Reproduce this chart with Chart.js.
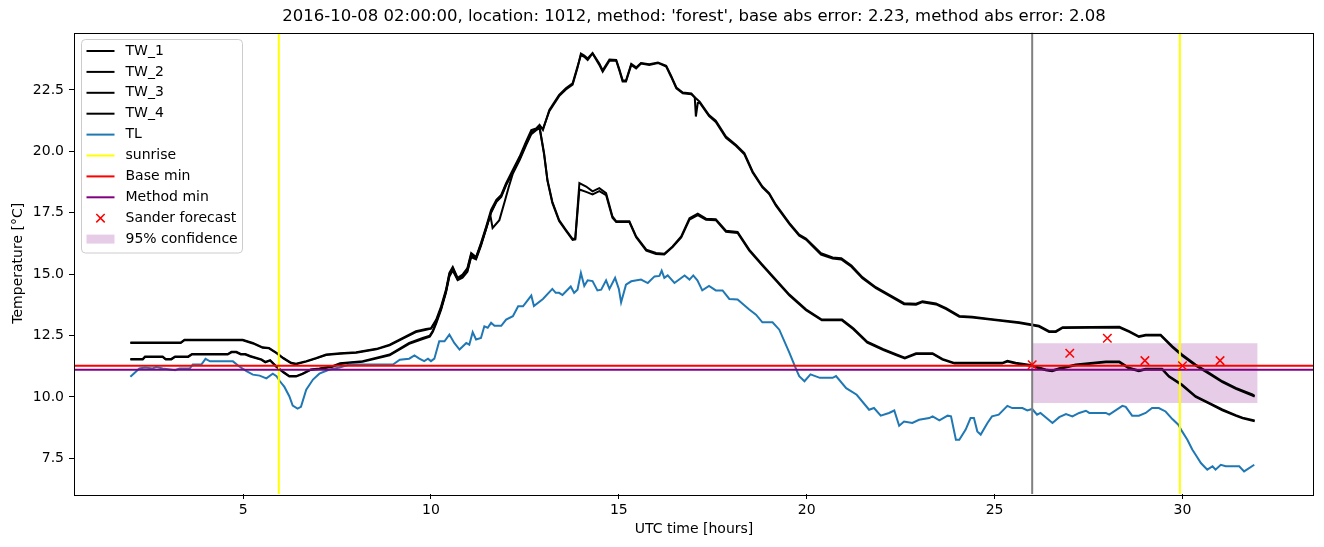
<!DOCTYPE html>
<html>
<head>
<meta charset="utf-8">
<script src="https://cdn.jsdelivr.net/npm/chart.js@4.4.0/dist/chart.umd.min.js"></script>
<style>
    html, body { margin: 0; padding: 0; background: #fff; }
    canvas { display: block; }
</style>
</head>
<body>
<canvas id="chart" width="1324" height="547"></canvas>
<script>
const titleText = "2016-10-08 02:00:00, location: 1012, method: 'forest', base abs error: 2.23, method abs error: 2.08";
const xTicks = [5, 10, 15, 20, 25, 30];
const yTicks = [7.5, 10, 12.5, 15, 17.5, 20, 22.5];
const xRange = [0.5, 33.5];
const yRange = [6.05, 24.84];

// [hours, temperature]
const tw1 = [[2.0,12.22],[3.34,12.22],[3.44,12.33],[4.99,12.33],[5.26,12.2],[5.52,12.02],[5.69,12.0],[5.89,11.8],[6.07,11.59],[6.28,11.39],[6.41,11.35],[6.68,11.46],[6.95,11.59],[7.21,11.73],[7.58,11.78],[8.01,11.82],[8.55,11.96],[8.9,12.13],[9.24,12.4],[9.6,12.68],[9.87,12.77],[10.0,12.8],[10.14,13.15],[10.27,13.69],[10.4,14.37],[10.49,15.05],[10.58,15.29],[10.71,14.85],[10.84,14.98],[10.97,15.25],[11.07,15.86],[11.2,15.7],[11.33,16.27],[11.47,16.94],[11.6,17.62],[11.74,18.03],[11.87,18.23],[12.0,18.71],[12.18,19.25],[12.36,19.79],[12.53,20.4],[12.67,20.87],[12.8,20.93],[12.89,21.08],[12.98,20.87],[13.15,21.69],[13.41,22.3],[13.59,22.57],[13.77,22.77],[13.9,23.45],[13.99,23.92],[14.08,23.85],[14.17,23.72],[14.3,23.99],[14.48,23.52],[14.57,23.24],[14.75,23.69],[14.93,23.69],[15.01,23.31],[15.1,22.84],[15.19,22.84],[15.33,23.52],[15.46,23.38],[15.59,23.58],[15.81,23.52],[16.04,23.6],[16.26,23.45],[16.39,23.04],[16.53,22.57],[16.7,22.37],[16.93,22.33],[17.15,22.02],[17.4,21.48],[17.58,21.25],[17.85,20.6],[18.12,20.26],[18.34,19.93],[18.56,19.18],[18.82,18.57],[19.0,18.3],[19.18,17.83],[19.54,17.08],[19.8,16.61],[19.98,16.45],[20.38,15.85],[20.69,15.68],[20.92,15.65],[21.19,15.35],[21.48,14.88],[21.84,14.47],[22.19,14.17],[22.59,13.82],[22.91,13.8],[23.08,13.9],[23.44,13.81],[23.71,13.62],[24.06,13.3],[24.4,13.27],[24.93,13.17],[25.65,13.04],[26.18,12.9],[26.45,12.68],[26.63,12.68],[26.81,12.84],[28.32,12.86],[28.58,12.68],[28.84,12.47],[29.02,12.53],[29.42,12.53],[29.73,12.07],[29.99,11.73],[30.35,11.32],[30.71,10.98],[31.06,10.64],[31.42,10.37],[31.86,10.1],[31.92,10.05]];

const tw2 = [[2.0,12.2],[3.34,12.2],[3.44,12.31],[4.99,12.31],[5.26,12.18],[5.52,12.0],[5.69,11.98],[5.89,11.78],[6.07,11.57],[6.28,11.37],[6.41,11.33],[6.68,11.44],[6.95,11.57],[7.21,11.71],[7.58,11.76],[8.01,11.8],[8.55,11.94],[8.9,12.1],[9.24,12.37],[9.6,12.64],[9.87,12.74],[10.0,12.78],[10.14,13.1],[10.27,13.62],[10.4,14.3],[10.49,15.0],[10.58,15.25],[10.71,14.8],[10.84,14.93],[10.97,15.2],[11.07,15.8],[11.2,15.66],[11.33,16.2],[11.47,16.86],[11.6,17.54],[11.74,17.95],[11.87,18.15],[12.0,18.63],[12.18,19.17],[12.36,19.71],[12.53,20.32],[12.67,20.79],[12.8,20.88],[12.89,21.03],[12.98,20.92],[13.15,21.64],[13.41,22.25],[13.59,22.52],[13.77,22.72],[13.9,23.4],[13.99,23.98],[14.08,23.9],[14.17,23.78],[14.3,24.0],[14.48,23.58],[14.57,23.3],[14.75,23.74],[14.93,23.72],[15.01,23.36],[15.1,22.9],[15.19,22.88],[15.33,23.56],[15.46,23.42],[15.59,23.6],[15.81,23.55],[16.04,23.62],[16.26,23.48],[16.39,23.08],[16.53,22.6],[16.7,22.4],[16.93,22.36],[17.02,22.2],[17.05,21.42],[17.1,21.97],[17.15,21.98],[17.4,21.44],[17.58,21.2],[17.85,20.55],[18.12,20.22],[18.34,19.88],[18.56,19.14],[18.82,18.53],[19.0,18.26],[19.18,17.79],[19.54,17.04],[19.8,16.57],[19.98,16.41],[20.38,15.8],[20.69,15.64],[20.92,15.6],[21.19,15.3],[21.48,14.83],[21.84,14.43],[22.19,14.13],[22.59,13.78],[22.91,13.76],[23.08,13.86],[23.44,13.77],[23.71,13.58],[24.06,13.27],[24.4,13.24],[24.93,13.14],[25.65,13.01],[26.18,12.87],[26.45,12.65],[26.63,12.65],[26.81,12.81],[28.32,12.83],[28.58,12.65],[28.84,12.44],[29.02,12.5],[29.42,12.5],[29.73,12.02],[29.99,11.68],[30.35,11.28],[30.71,10.94],[31.06,10.6],[31.42,10.33],[31.86,10.06],[31.92,10.02]];

const tw3 = [[2.0,11.55],[2.33,11.55],[2.39,11.65],[2.86,11.65],[2.94,11.55],[3.09,11.55],[3.19,11.65],[3.54,11.65],[3.64,11.75],[4.59,11.75],[4.69,11.84],[4.82,11.84],[4.94,11.75],[5.06,11.75],[5.19,11.67],[5.49,11.53],[5.59,11.43],[5.72,11.5],[5.88,11.25],[6.08,11.01],[6.23,10.85],[6.41,10.85],[6.58,10.95],[6.8,11.12],[7.03,11.16],[7.38,11.25],[7.58,11.37],[8.18,11.46],[8.9,11.73],[9.42,12.2],[9.78,12.4],[9.97,12.5],[10.05,12.7],[10.14,13.05],[10.27,13.6],[10.4,14.3],[10.49,14.95],[10.58,15.2],[10.71,14.8],[10.84,14.9],[10.97,15.15],[11.07,15.75],[11.2,15.65],[11.33,16.2],[11.47,16.9],[11.6,17.5],[11.74,17.95],[11.87,18.18],[12.0,18.65],[12.18,19.15],[12.36,19.7],[12.53,20.3],[12.67,20.75],[12.8,20.9],[12.89,21.0],[13.01,19.93],[13.1,18.84],[13.23,17.95],[13.41,17.2],[13.59,16.81],[13.77,16.43],[13.84,16.45],[13.95,18.71],[14.13,18.57],[14.3,18.37],[14.48,18.5],[14.66,18.3],[14.83,17.35],[14.93,17.15],[15.28,17.15],[15.46,16.54],[15.73,16.0],[15.99,15.86],[16.21,15.83],[16.43,16.13],[16.66,16.54],[16.88,17.28],[17.1,17.46],[17.32,17.26],[17.58,17.24],[17.85,16.77],[18.16,16.72],[18.47,16.0],[18.82,15.39],[19.18,14.78],[19.54,14.17],[19.98,13.57],[20.4,13.15],[20.94,13.15],[21.24,12.8],[21.61,12.25],[22.04,11.95],[22.39,11.73],[22.61,11.6],[22.91,11.78],[23.35,11.78],[23.61,11.55],[23.93,11.39],[25.2,11.39],[25.34,11.47],[25.56,11.39],[25.96,11.3],[26.36,11.12],[26.53,11.08],[26.72,11.17],[27.16,11.32],[27.96,11.44],[28.32,11.44],[28.58,11.19],[28.84,11.08],[29.02,11.15],[29.46,11.15],[29.64,10.85],[29.99,10.51],[30.35,10.03],[30.71,9.76],[31.06,9.49],[31.42,9.26],[31.6,9.16],[31.92,9.04]];

const tw4 = [[2.0,11.53],[2.33,11.53],[2.39,11.63],[2.86,11.63],[2.94,11.53],[3.09,11.53],[3.19,11.63],[3.54,11.63],[3.64,11.73],[4.59,11.73],[4.69,11.82],[4.82,11.82],[4.94,11.73],[5.06,11.73],[5.19,11.65],[5.49,11.51],[5.59,11.41],[5.72,11.48],[5.88,11.23],[6.08,10.99],[6.23,10.83],[6.41,10.83],[6.58,10.93],[6.8,11.1],[7.03,11.14],[7.38,11.23],[7.58,11.34],[8.18,11.43],[8.9,11.7],[9.42,12.16],[9.78,12.36],[9.97,12.46],[10.05,12.65],[10.14,13.0],[10.27,13.55],[10.4,14.25],[10.49,14.9],[10.58,15.15],[10.71,14.76],[10.84,14.86],[10.97,15.1],[11.07,15.7],[11.2,15.6],[11.33,16.15],[11.47,16.85],[11.58,17.4],[11.64,16.88],[11.82,17.2],[11.97,18.0],[12.07,18.55],[12.18,19.1],[12.36,19.65],[12.53,20.25],[12.67,20.7],[12.8,20.86],[12.89,20.95],[13.01,19.88],[13.1,18.8],[13.23,17.9],[13.41,17.16],[13.59,16.77],[13.77,16.4],[13.84,16.42],[13.95,18.45],[14.13,18.35],[14.3,18.25],[14.48,18.38],[14.66,18.22],[14.83,17.3],[14.93,17.12],[15.28,17.12],[15.46,16.5],[15.73,15.96],[15.99,15.82],[16.21,15.8],[16.43,16.1],[16.66,16.5],[16.88,17.22],[17.1,17.4],[17.32,17.22],[17.58,17.2],[17.85,16.73],[18.16,16.68],[18.47,15.96],[18.82,15.35],[19.18,14.74],[19.54,14.13],[19.98,13.53],[20.4,13.12],[20.94,13.12],[21.24,12.76],[21.61,12.21],[22.04,11.91],[22.39,11.7],[22.61,11.57],[22.91,11.75],[23.35,11.75],[23.61,11.52],[23.93,11.36],[25.2,11.36],[25.34,11.44],[25.56,11.36],[25.96,11.27],[26.36,11.09],[26.53,11.05],[26.72,11.14],[27.16,11.29],[27.96,11.41],[28.32,11.41],[28.58,11.16],[28.84,11.05],[29.02,11.12],[29.46,11.12],[29.64,10.82],[29.99,10.47],[30.35,10.0],[30.71,9.73],[31.06,9.46],[31.42,9.23],[31.6,9.13],[31.92,9.01]];

const tl = [[2.0,10.82],[2.24,11.16],[2.39,11.2],[2.59,11.16],[2.69,11.22],[2.86,11.16],[3.19,11.09],[3.31,11.16],[3.58,11.16],[3.66,11.32],[3.89,11.32],[4.0,11.55],[4.12,11.45],[4.73,11.45],[4.89,11.25],[5.09,11.05],[5.26,10.91],[5.44,10.87],[5.62,10.76],[5.79,10.95],[5.89,10.85],[5.98,10.64],[6.1,10.41],[6.23,10.03],[6.32,9.65],[6.45,9.53],[6.54,9.6],[6.68,10.3],[6.86,10.71],[7.03,10.95],[7.3,11.12],[7.57,11.2],[7.83,11.32],[8.55,11.32],[8.99,11.32],[9.17,11.52],[9.42,11.56],[9.56,11.69],[9.69,11.56],[9.82,11.46],[9.92,11.56],[10.0,11.46],[10.09,11.56],[10.22,12.27],[10.36,12.27],[10.49,12.54],[10.62,12.2],[10.76,11.93],[10.94,12.2],[11.02,12.13],[11.11,12.64],[11.2,12.34],[11.33,12.4],[11.42,12.88],[11.51,12.82],[11.6,13.02],[11.69,12.9],[11.87,12.9],[12.0,13.15],[12.18,13.29],[12.32,13.69],[12.45,13.69],[12.67,14.13],[12.74,13.7],[12.98,13.99],[13.23,14.4],[13.32,14.24],[13.41,14.24],[13.5,14.15],[13.72,14.5],[13.81,14.24],[13.9,14.37],[13.99,15.05],[14.08,14.52],[14.17,14.75],[14.3,14.72],[14.43,14.34],[14.53,14.37],[14.66,14.75],[14.75,14.4],[14.9,14.85],[15.0,14.4],[15.06,13.85],[15.19,14.57],[15.33,14.71],[15.59,14.78],[15.77,14.64],[15.95,14.91],[16.08,14.93],[16.14,15.14],[16.21,14.85],[16.3,14.95],[16.48,14.64],[16.75,14.95],[16.88,14.78],[16.98,14.95],[17.09,14.75],[17.22,14.34],[17.4,14.52],[17.58,14.34],[17.76,14.34],[17.94,13.99],[18.16,13.97],[18.47,13.56],[18.65,13.35],[18.82,13.04],[19.09,13.04],[19.27,12.74],[19.54,11.8],[19.72,11.12],[19.8,10.85],[19.94,10.64],[20.1,10.92],[20.35,10.78],[20.69,10.78],[20.78,10.85],[21.05,10.36],[21.33,10.09],[21.66,9.48],[21.79,9.55],[21.97,9.24],[22.19,9.35],[22.33,9.45],[22.46,8.83],[22.59,9.0],[22.81,8.94],[22.99,9.07],[23.26,9.14],[23.35,9.21],[23.53,9.05],[23.75,9.24],[23.84,9.21],[23.97,8.26],[24.06,8.26],[24.23,8.67],[24.36,9.14],[24.45,9.14],[24.54,8.6],[24.63,8.47],[24.81,8.94],[24.93,9.21],[25.11,9.28],[25.34,9.64],[25.47,9.55],[25.74,9.55],[25.87,9.45],[26.0,9.51],[26.13,9.28],[26.22,9.35],[26.54,8.94],[26.72,9.18],[26.9,9.3],[27.07,9.21],[27.25,9.35],[27.43,9.44],[27.52,9.35],[27.96,9.35],[28.05,9.28],[28.4,9.64],[28.49,9.6],[28.66,9.24],[28.84,9.24],[29.02,9.35],[29.19,9.55],[29.37,9.55],[29.55,9.41],[29.73,9.1],[29.89,8.87],[29.99,8.6],[30.13,8.26],[30.26,7.86],[30.35,7.65],[30.49,7.31],[30.66,7.04],[30.8,7.18],[30.88,7.04],[31.02,7.24],[31.15,7.18],[31.51,7.18],[31.64,6.97],[31.91,7.24]];

const sunriseTimes = [5.95, 29.93];
const forecastStart = 26;
const baseMin = 11.27;
const methodMin = 11.11;
const forecastTimes = [26, 27, 28, 29, 30, 31];
const forecastValues = [11.31, 11.78, 12.39, 11.48, 11.27, 11.48];
const confTimes = [26, 32];
const confLow = [9.76, 9.76];
const confHigh = [12.19, 12.19];

const FONT = 'DejaVu Sans';
const BAND = 'rgba(128, 0, 128, 0.2)';
Chart.defaults.font.family = FONT;
Chart.defaults.color = '#000';

function pts(list) {
    return list.map(p => ({ x: p[0], y: p[1] }));
}

function line(label, data, color, order, legendKind) {
    return {
        label: label,
        data: data,
        borderColor: color,
        borderWidth: 2,
        pointRadius: 0,
        fill: false,
        tension: 0,
        order: order,
        legendKind: legendKind
    };
}

const datasets = [
    line('TW_1', pts(tw1), '#000000', 9, 'line'),
    line('TW_2', pts(tw2), '#000000', 9, 'line'),
    line('TW_3', pts(tw3), '#000000', 9, 'line'),
    line('TW_4', pts(tw4), '#000000', 9, 'line'),
    line('TL', pts(tl), '#1f77b4', 8, 'line'),
    line('sunrise', [{ x: sunriseTimes[0], y: yRange[0] }, { x: sunriseTimes[0], y: yRange[1] }], '#ffff00', 7, 'line'),
    line('sunrise2', [{ x: sunriseTimes[1], y: yRange[0] }, { x: sunriseTimes[1], y: yRange[1] }], '#ffff00', 7, null),
    line('Base min', [{ x: xRange[0], y: baseMin }, { x: xRange[1], y: baseMin }], '#ff0000', 6, 'line'),
    line('Method min', [{ x: xRange[0], y: methodMin }, { x: xRange[1], y: methodMin }], '#800080', 6, 'line'),
    line('now', [{ x: forecastStart, y: yRange[0] }, { x: forecastStart, y: yRange[1] }], '#808080', 7, null),
    {
        label: 'Sander forecast',
        data: forecastTimes.map((t, i) => ({ x: t, y: forecastValues[i] })),
        showLine: false,
        pointStyle: 'crossRot',
        pointRadius: 6,
        pointBorderWidth: 1.5,
        borderColor: '#ff0000',
        backgroundColor: '#ff0000',
        order: 1,
        legendKind: 'marker'
    },
    {
        label: 'conf high',
        data: confTimes.map((t, i) => ({ x: t, y: confHigh[i] })),
        borderWidth: 0,
        pointRadius: 0,
        fill: false,
        order: 10
    },
    {
        label: '95% confidence',
        data: confTimes.map((t, i) => ({ x: t, y: confLow[i] })),
        borderWidth: 0,
        pointRadius: 0,
        backgroundColor: BAND,
        fill: '-1',
        order: 10,
        legendKind: 'patch'
    }
];

// title, frame and legend drawn the matplotlib way
const frame = {
    id: 'frame',
    afterDatasetsDraw(chart) {
        const ctx = chart.ctx;
        const a = chart.chartArea;
        ctx.save();
        ctx.strokeStyle = '#000';
        ctx.lineWidth = 1;
        ctx.strokeRect(Math.round(a.left) + 0.5, Math.round(a.top) + 0.5,
            Math.round(a.right - a.left) - 1, Math.round(a.bottom - a.top));

        ctx.fillStyle = '#000';
        ctx.font = '16.5px "' + FONT + '"';
        ctx.textAlign = 'center';
        ctx.textBaseline = 'middle';
        ctx.fillText(titleText, (a.left + a.right) / 2, 17);

        // legend
        const items = chart.data.datasets.filter(d => d.legendKind);
        const x0 = a.left + 7.5;
        const y0 = a.top + 7;
        const w = 161;
        const h = 213.5;
        const r = 4;
        ctx.beginPath();
        ctx.moveTo(x0 + r, y0);
        ctx.arcTo(x0 + w, y0, x0 + w, y0 + h, r);
        ctx.arcTo(x0 + w, y0 + h, x0, y0 + h, r);
        ctx.arcTo(x0, y0 + h, x0, y0, r);
        ctx.arcTo(x0, y0, x0 + w, y0, r);
        ctx.closePath();
        ctx.fillStyle = 'rgba(255,255,255,0.8)';
        ctx.fill();
        ctx.strokeStyle = '#cccccc';
        ctx.lineWidth = 1;
        ctx.stroke();

        ctx.font = '14px "' + FONT + '"';
        ctx.textAlign = 'left';
        items.forEach((d, i) => {
            const y = y0 + 11.5 + i * 20.9;
            const hx = x0 + 5;
            if (d.legendKind === 'line') {
                ctx.beginPath();
                ctx.moveTo(hx, y);
                ctx.lineTo(hx + 28, y);
                ctx.strokeStyle = d.borderColor;
                ctx.lineWidth = 2;
                ctx.stroke();
            } else if (d.legendKind === 'marker') {
                const cx = hx + 14;
                ctx.beginPath();
                ctx.moveTo(cx - 4.2, y - 4.2);
                ctx.lineTo(cx + 4.2, y + 4.2);
                ctx.moveTo(cx - 4.2, y + 4.2);
                ctx.lineTo(cx + 4.2, y - 4.2);
                ctx.strokeStyle = d.borderColor;
                ctx.lineWidth = 1.5;
                ctx.stroke();
            } else {
                ctx.fillStyle = BAND;
                ctx.fillRect(hx, y - 4.5, 28, 9);
            }
            ctx.fillStyle = '#000';
            ctx.fillText(d.label, x0 + 44, y);
        });
        ctx.restore();
    }
};

const tickFont = { family: FONT, size: 14 };

new Chart(document.getElementById('chart'), {
    type: 'line',
    data: { datasets: datasets },
    options: {
        responsive: false,
        animation: false,
        events: [],
        layout: { padding: { left: 0, right: 10, top: 32.5, bottom: 0 } },
        plugins: {
            legend: { display: false },
            title: { display: false },
            tooltip: { enabled: false }
        },
        scales: {
            x: {
                type: 'linear',
                min: xRange[0],
                max: xRange[1],
                afterBuildTicks: axis => { axis.ticks = xTicks.map(v => ({ value: v })); },
                afterFit: axis => { axis.height = 53; },
                ticks: { font: tickFont, color: '#000', padding: 3, maxRotation: 0, callback: v => String(v) },
                grid: { drawOnChartArea: false, drawTicks: true, tickLength: 5, color: '#000' },
                border: { display: false },
                title: { display: true, text: 'UTC time [hours]', font: tickFont, color: '#000', padding: { top: 0, bottom: 9.5 } }
            },
            y: {
                type: 'linear',
                min: yRange[0],
                max: yRange[1],
                afterBuildTicks: axis => { axis.ticks = yTicks.map(v => ({ value: v })); },
                afterFit: axis => { axis.width = 74; },
                ticks: { font: tickFont, color: '#000', padding: 5, callback: v => v.toFixed(1) },
                grid: { drawOnChartArea: false, drawTicks: true, tickLength: 5, color: '#000' },
                border: { display: false },
                title: { display: true, text: 'Temperature [°C]', font: tickFont, color: '#000', padding: { top: 9.5, bottom: 0 } }
            }
        }
    },
    plugins: [frame]
});
</script>
</body>
</html>
